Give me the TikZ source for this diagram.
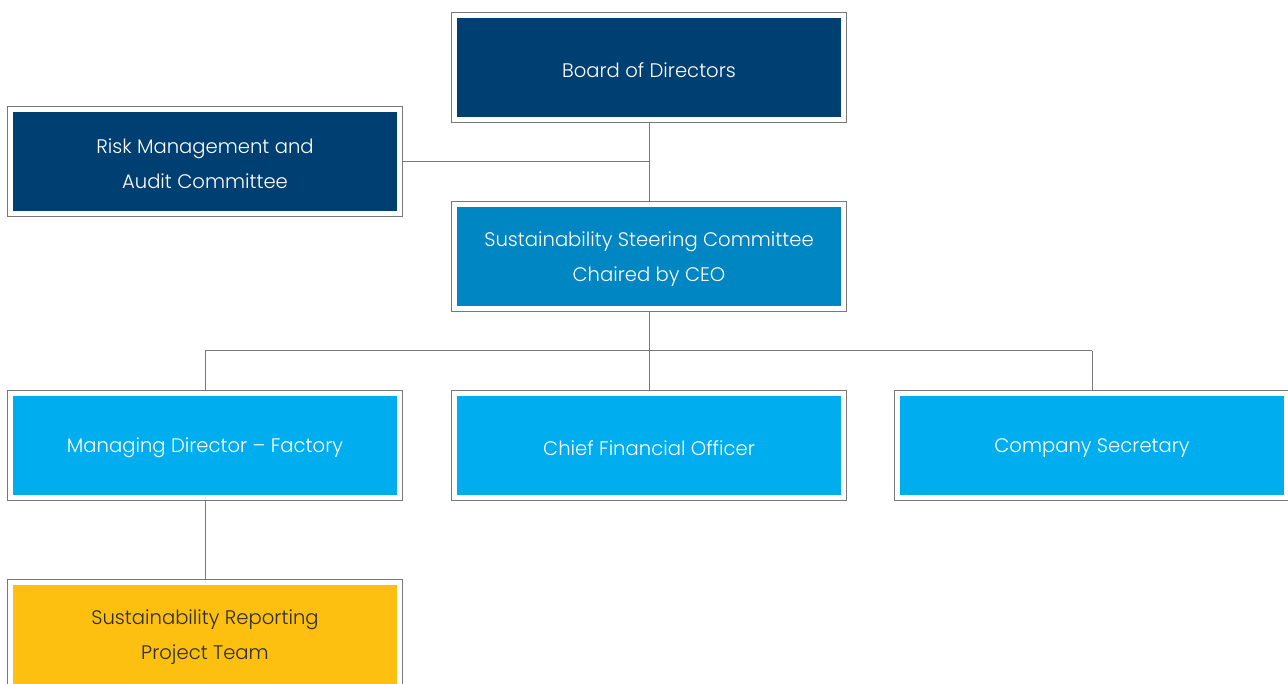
\documentclass[tikz,border=0pt]{standalone}
\usepackage{fontspec}
\setmainfont{Poppins Light}
\definecolor{navy}{RGB}{0,63,114}
\definecolor{midblue}{RGB}{0,134,194}
\definecolor{lightblue}{RGB}{0,174,239}
\definecolor{gold}{RGB}{253,192,16}
\definecolor{frame}{RGB}{120,120,120}
\definecolor{darktext}{RGB}{45,45,45}
\begin{document}
\begin{tikzpicture}[x=1pt,y=1pt,
  orgbox/.style={minimum width=384pt, minimum height=99pt, inner sep=0pt, outer sep=5.5pt},
  boxtext/.style={align=center, inner sep=0pt, font=\fontsize{19.6}{35}\selectfont, text=white},
  framed/.style={draw=frame, line width=1pt},
  link/.style={draw=frame, line width=1pt}]
\useasboundingbox (0,0) rectangle (1288,684);
\node[orgbox, fill=navy] (board) at (649,616.5) {};
\node[orgbox, fill=navy] (risk) at (205,522.5) {};
\node[orgbox, fill=midblue] (steer) at (649,427.5) {};
\node[orgbox, fill=lightblue] (md) at (205,238.5) {};
\node[orgbox, fill=lightblue] (cfo) at (649,238.5) {};
\node[orgbox, fill=lightblue] (cs) at (1092,238.5) {};
\node[orgbox, fill=gold] (team) at (205,49.5) {};
\foreach \n in {board,risk,steer,md,cfo,cs,team}
  \draw[framed] (\n.north west) rectangle (\n.south east);
\node[boxtext] (tboard) at ([yshift=-2.5pt]board.center) {Board of Directors};
\node[boxtext] (trisk) at ([yshift=-2.5pt]risk.center) {Risk Management and\\Audit Committee};
\node[boxtext] (tsteer) at ([yshift=-2.5pt]steer.center) {Sustainability Steering Committee\\Chaired by CEO};
\node[boxtext] (tmd) at ([yshift=-2.5pt]md.center) {Managing Director – Factory};
\node[boxtext] (tcfo) at ([yshift=-2.5pt]cfo.center) {Chief Financial Officer};
\node[boxtext] (tcs) at ([yshift=-2.5pt]cs.center) {Company Secretary};
\node[boxtext, text=darktext] (tteam) at ([yshift=-2.5pt]team.center) {Sustainability Reporting\\Project Team};
\coordinate (bus) at (649,333);
\draw[link] (board.south) -- (steer.north);
\draw[link] (risk.east) -- (risk.east -| board.south);
\draw[link] (steer.south) -- (bus);
\draw[link] (md.north |- bus) -- (cs.north |- bus);
\draw[link] (md.north |- bus) -- (md.north);
\draw[link] (cfo.north |- bus) -- (cfo.north);
\draw[link] (cs.north |- bus) -- (cs.north);
\draw[link] (md.south) -- (team.north);
\end{tikzpicture}
\end{document}
